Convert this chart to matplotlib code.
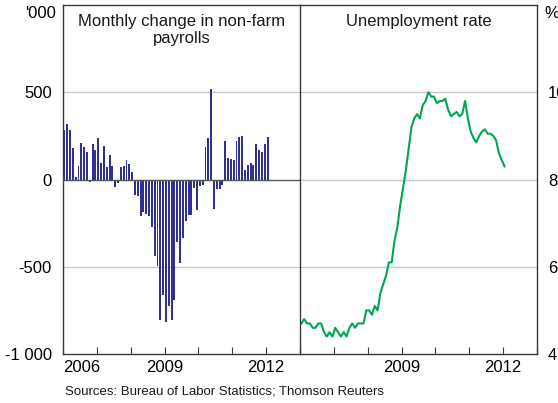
import matplotlib.pyplot as plt
import numpy as np

plt.rcParams['font.family'] = ['Liberation Sans', 'DejaVu Sans']

# Monthly change in non-farm payrolls, '000, Jan 2006 - Jan 2012
payrolls = [
    283, 318, 283, 180, 15, 77, 207, 188, 157, -13, 203, 169,
    238, 96, 192, 73, 140, 79, -42, -19, 73, 80, 111, 88,
    42, -86, -97, -212, -189, -199, -212, -275, -437, -494, -803, -664,
    -819, -727, -803, -693, -361, -481, -338, -237, -202, -206, -46, -174,
    -40, -34, 186, 238, 517, -168, -57, -52, -29, 220, 123, 117,
    111, 218, 245, 249, 54, 84, 94, 84, 203, 169, 157, 203,
    245,
]

# Unemployment rate, %, Jan 2006 - Jan 2012
unemployment = [
    4.7, 4.8, 4.7, 4.7, 4.6, 4.6, 4.7, 4.7, 4.5, 4.4, 4.5, 4.4,
    4.6, 4.5, 4.4, 4.5, 4.4, 4.6, 4.7, 4.6, 4.7, 4.7, 4.7, 5.0,
    5.0, 4.9, 5.1, 5.0, 5.4, 5.6, 5.8, 6.1, 6.1, 6.6, 6.9, 7.4,
    7.8, 8.2, 8.7, 9.2, 9.4, 9.5, 9.4, 9.7, 9.8, 10.0, 9.9, 9.9,
    9.75, 9.8, 9.8, 9.85, 9.6, 9.45, 9.5, 9.55, 9.45, 9.5, 9.8, 9.4,
    9.1, 8.95, 8.85, 9.0, 9.1, 9.15, 9.05, 9.05, 9.0, 8.9, 8.6, 8.45,
    8.3,
]

months = 2006 + (np.arange(len(payrolls)) + 0.5) / 12

W, H = 558, 403
fig = plt.figure(figsize=(W / 100, H / 100), dpi=100)
ax1 = fig.add_axes([63 / W, 1 - 354 / H, 237 / W, 349 / H])
ax2 = fig.add_axes([300 / W, 1 - 354 / H, 237 / W, 349 / H])

frame = '#3a3a3a'
grid = '#c8c8c8'

# left panel: payrolls bars
ax1.bar(months, payrolls, width=0.058, color='#2E3192', zorder=2)
ax1.set_ylim(-1000, 1000)
ax1.set_yticks([-1000, -500, 0, 500])
ax1.set_yticklabels(['-1 000', '-500', '0', '500'])
for v in [500, -500]:
    ax1.axhline(v, color=grid, lw=1, zorder=0)
ax1.axhline(0, color='#555555', lw=1, zorder=3)

# right panel: unemployment line
ax2.plot(months, unemployment, color='#00A651', lw=1.5, zorder=2)
ax2.set_ylim(4, 12)
ax2.set_yticks([4, 6, 8, 10])
for v in [6, 8, 10]:
    ax2.axhline(v, color=grid, lw=1, zorder=0)
ax2.yaxis.tick_right()

for ax in (ax1, ax2):
    ax.set_xlim(2006, 2013)
    ax.set_xticks(range(2006, 2014))
    for s in ax.spines.values():
        s.set_color(frame)
        s.set_linewidth(1)
    ax.tick_params(axis='x', direction='in', length=5, color=frame,
                   labelsize=12, pad=4, top=False)
    ax.tick_params(axis='y', length=0, labelsize=12, pad=8)
ax1.spines['right'].set_visible(False)
ax2.patch.set_visible(False)

ax1.set_xticklabels(['2006', '', '', '2009', '', '', '2012', ''])
ax1.get_xticklabels()[0].set_ha('left')
ax2.set_xticklabels(['', '', '', '2009', '', '', '2012', ''])

ax1.text(0.5, 0.975, 'Monthly change in non-farm\npayrolls', transform=ax1.transAxes,
         ha='center', va='top', fontsize=12, linespacing=1.2, color='#1a1a1a')
ax2.text(0.5, 0.975, 'Unemployment rate', transform=ax2.transAxes,
         ha='center', va='top', fontsize=12, color='#1a1a1a')

fig.text(56 / W, 1 - 14 / H, "'000", ha='right', va='center', fontsize=12)
fig.text(544 / W, 1 - 14 / H, '%', ha='left', va='center', fontsize=12)
fig.text(65 / W, 1 - 392 / H, 'Sources: Bureau of Labor Statistics; Thomson Reuters',
         ha='left', va='center', fontsize=9.5, color='#1a1a1a')

fig.savefig('out.png', dpi=100)
